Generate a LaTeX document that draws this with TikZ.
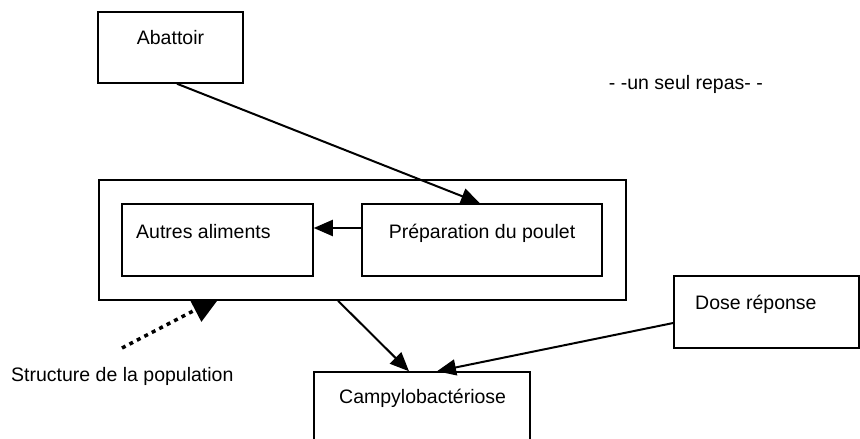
\documentclass[tikz,border=0pt]{standalone}
\usepackage{fontspec}
\setmainfont{Liberation Sans}
\usetikzlibrary{arrows.meta,calc}
\begin{document}
\begin{tikzpicture}[x=1pt,y=-1pt,
  box/.style={draw, line width=1.5pt, fill=white, inner sep=0pt},
  lbl/.style={font=\fontsize{19.5}{23}\selectfont, inner sep=0pt, anchor=base},
  arr/.style={line width=2pt, -{Triangle[length=19pt,width=16pt]}},
  dotarr/.style={line width=3.5pt, dash pattern=on 4pt off 4.4pt, -{Triangle[length=28pt,width=26pt]}}]
\useasboundingbox (0,0) rectangle (860,439);
\clip (0,0) rectangle (860,439);
\fill[white] (0,0) rectangle (860,439);

% dotted arrow (drawn first, its tip hidden under the outer box)
\coordinate (dotstart) at (122,348);
\coordinate (dotend) at (220,297);
\draw[dotarr] (dotstart) -- (dotend);

% boxes
\node[box, minimum width=145pt, minimum height=71pt] (abattoir) at (170.5,47.5) {};
\node[box, minimum width=527pt, minimum height=120pt] (outer) at (362.5,240) {};
\node[box, minimum width=191pt, minimum height=72pt] (autres) at (217.5,240) {};
\node[box, minimum width=240pt, minimum height=72pt] (prep) at (482,240) {};
\node[box, minimum width=185pt, minimum height=72pt] (dose) at (766.5,312) {};
\node[box, minimum width=216pt, minimum height=88pt] (campy) at (422,416) {};

% texts
\node[lbl] (tAbattoir) at (170.5,45) {Abattoir};
\node[lbl, anchor=base west] (tAutres) at (136,238) {Autres aliments};
\node[lbl] (tPrep) at (482,238) {Préparation du poulet};
\node[lbl, anchor=base west] (tDose) at (695,309) {Dose réponse};
\node[lbl, anchor=base west] (tCampy) at (339,403) {Campylobactériose};
\node[lbl, anchor=base west] (tStruct) at (11,381) {Structure de la population};
\node[lbl, anchor=base east] (tRepas) at (763,89) {- -un seul repas- -};

% arrows
\draw[arr] ($(abattoir.south)+(6.5,0)$) -- ($(prep.north)+(-2,0)$);
\draw[arr] ($(prep.west)+(0,-12)$) -- ($(autres.east)+(0,-12)$);
\draw[arr] ($(outer.south)+(-24.5,0)$) -- ($(campy.north)+(-13,0)$);
\draw[arr] ($(dose.west)+(0,11)$) -- ($(campy.north)+(15,0)$);
\end{tikzpicture}
\end{document}
